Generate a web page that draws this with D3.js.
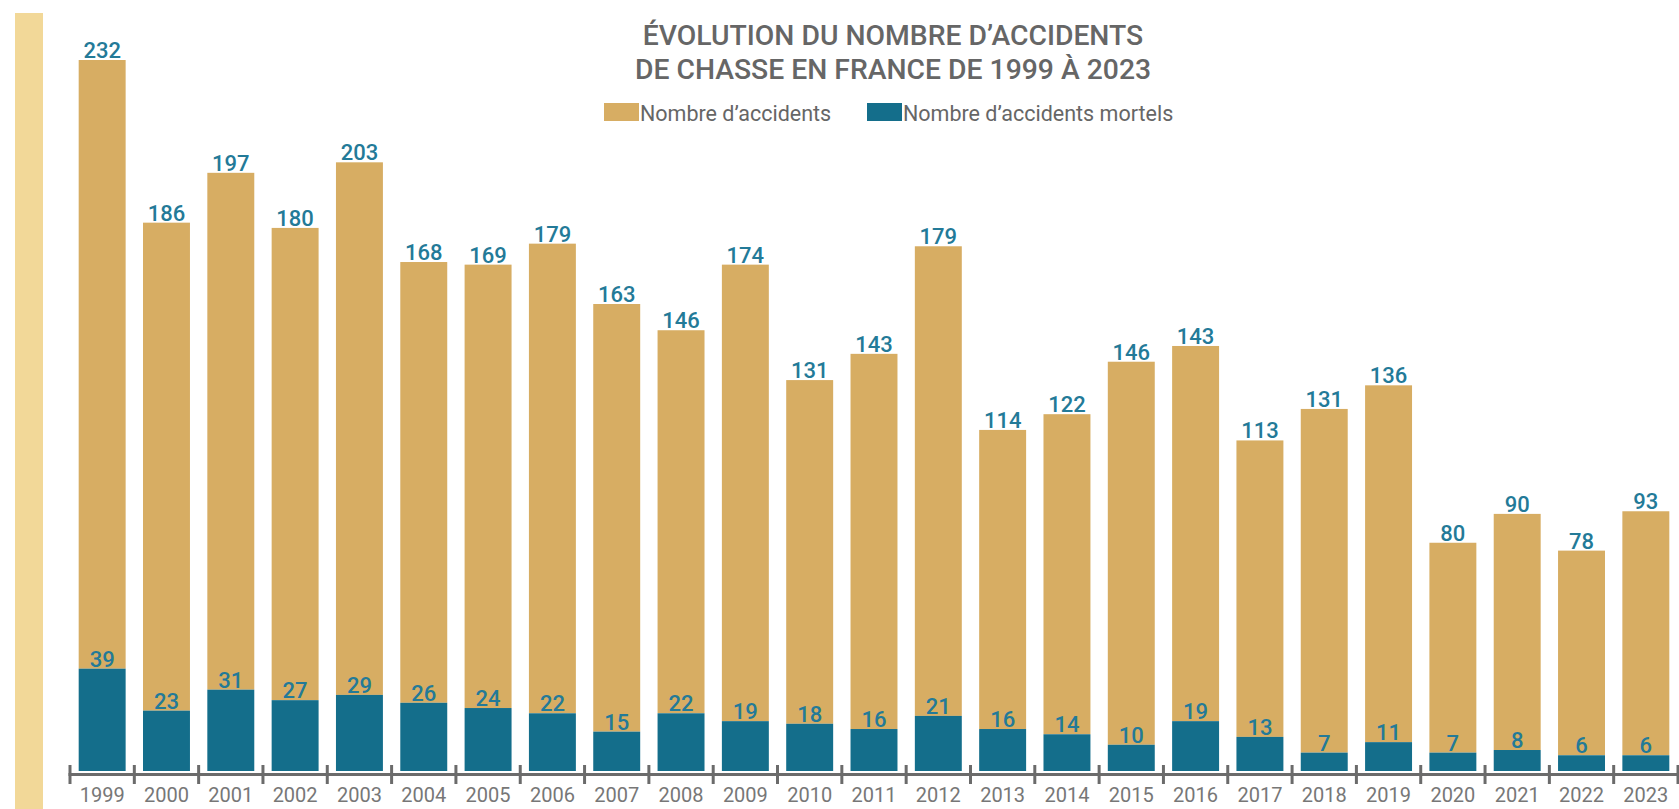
<!DOCTYPE html>
<html>
<head>
<meta charset="utf-8">
<script src="https://cdn.jsdelivr.net/npm/d3@7"></script>
<style>
  html, body { margin: 0; padding: 0; background: #fff; }
  svg { display: block; font-family: Roboto, "Noto Sans", sans-serif; }
</style>
</head>
<body>
<svg id="chart" width="1679" height="809"></svg>
<script>
const years = ["1999","2000","2001","2002","2003","2004","2005","2006","2007","2008","2009","2010","2011","2012","2013","2014","2015","2016","2017","2018","2019","2020","2021","2022","2023"];
const accidents = [232,186,197,180,203,168,169,179,163,146,174,131,143,179,114,122,146,143,113,131,136,80,90,78,93];
const mortels = [39,23,31,27,29,26,24,22,15,22,19,18,16,21,16,14,10,19,13,7,11,7,8,6,6];
const titleLines = ["ÉVOLUTION DU NOMBRE D’ACCIDENTS", "DE CHASSE EN FRANCE DE 1999 À 2023"];
const seriesNames = ["Nombre d’accidents", "Nombre d’accidents mortels"];

const colAcc = "#D7AD63";
const colMort = "#146E8B";
const colLabel = "#237A98";
const colText = "#666666";

const svg = d3.select("#chart");

// left decorative strip
svg.append("rect").attr("x", 15).attr("y", 13).attr("width", 28).attr("height", 809 - 13).attr("fill", "#F2D898");

const x = d3.scaleBand().domain(years).range([70, 1678]).paddingInner(0.27).paddingOuter(0.135);
const y = d3.scaleLinear().domain([0, 271]).range([771, 60]);

const data = years.map((yr, i) => ({ year: yr, acc: accidents[i], mort: mortels[i] }));

// stacked bars: mortels at bottom, accidents on top
const g = svg.append("g");
g.selectAll("rect.acc").data(data).join("rect")
  .attr("class", "acc")
  .attr("x", d => x(d.year)).attr("width", x.bandwidth())
  .attr("y", d => y(d.mort + d.acc))
  .attr("height", d => y(d.mort) - y(d.mort + d.acc))
  .attr("fill", colAcc);
g.selectAll("rect.mort").data(data).join("rect")
  .attr("class", "mort")
  .attr("x", d => x(d.year)).attr("width", x.bandwidth())
  .attr("y", d => y(d.mort))
  .attr("height", d => y(0) - y(d.mort))
  .attr("fill", colMort);

// labels
g.selectAll("text.acc").data(data).join("text")
  .attr("x", d => x(d.year) + x.bandwidth() / 2)
  .attr("y", d => y(d.mort + d.acc) - 2)
  .attr("text-anchor", "middle")
  .attr("font-size", 22).attr("font-weight", 500)
  .attr("fill", colLabel)
  .text(d => d.acc);
g.selectAll("text.mort").data(data).join("text")
  .attr("x", d => x(d.year) + x.bandwidth() / 2)
  .attr("y", d => y(d.mort) - 2)
  .attr("text-anchor", "middle")
  .attr("font-size", 22).attr("font-weight", 500)
  .attr("fill", colLabel)
  .text(d => d.mort);

// axis
const step = x.step();
const gap = step - x.bandwidth();
const axisY = 774.5;
const ax = svg.append("g");
ax.append("line").attr("x1", x(years[0]) - gap / 2 - 1.5).attr("x2", 1679)
  .attr("y1", axisY).attr("y2", axisY).attr("stroke", "#6b6b6b").attr("stroke-width", 3);
const tickXs = years.map(yr => x(yr) - gap / 2).concat([x(years[years.length - 1]) + x.bandwidth() + gap / 2]);
ax.selectAll("line.tick").data(tickXs).join("line")
  .attr("class", "tick")
  .attr("x1", d => d).attr("x2", d => d)
  .attr("y1", 765).attr("y2", 784)
  .attr("stroke", "#6b6b6b").attr("stroke-width", 3);
ax.selectAll("text").data(years).join("text")
  .attr("x", d => x(d) + x.bandwidth() / 2)
  .attr("y", 802)
  .attr("text-anchor", "middle")
  .attr("font-size", 20)
  .attr("fill", "#777777")
  .text(d => d);

// title
svg.selectAll("text.title").data(titleLines).join("text")
  .attr("class", "title")
  .attr("x", 893).attr("y", (d, i) => 45 + i * 34)
  .attr("text-anchor", "middle")
  .attr("font-size", 28.3).attr("font-weight", 500)
  .attr("fill", colText)
  .text(d => d);

// legend
const leg = svg.append("g");
const legItems = [
  { name: seriesNames[0], color: colAcc, x: 604 },
  { name: seriesNames[1], color: colMort, x: 867 }
];
legItems.forEach(it => {
  leg.append("rect").attr("x", it.x).attr("y", 103).attr("width", 35).attr("height", 18).attr("fill", it.color);
  leg.append("text").attr("x", it.x + 36).attr("y", 121)
    .attr("font-size", 21.5).attr("fill", colText).text(it.name);
});
</script>
</body>
</html>
